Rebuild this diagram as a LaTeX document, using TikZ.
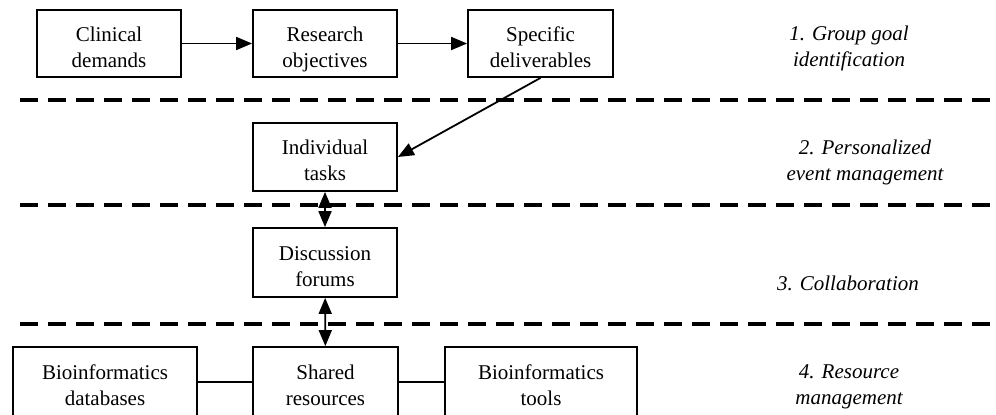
\documentclass[tikz,border=0pt]{standalone}
\usepackage{fontspec}
\setmainfont{Liberation Serif}
\usetikzlibrary{arrows.meta}
\newcommand{\lw}[1]{\raisebox{-3.5pt}[20pt][6pt]{#1}}
\newcommand{\tl}[2]{\lw{#1}\\\lw{#2}}
\tikzset{
  box/.style={draw, line width=1.8pt, inner sep=0pt, align=center,
    font=\fontsize{21}{26}\selectfont},
  lab/.style={align=center, font=\fontsize{21}{26}\selectfont\itshape},
  sep/.style={line width=4pt, dash pattern=on 18pt off 10pt},
  conn/.style={line width=1.8pt, -{Triangle[length=16pt,width=13pt]}},
  dconn/.style={line width=1.8pt, {Triangle[length=16pt,width=13pt]}-{Triangle[length=16pt,width=13pt]}},
  plain/.style={line width=1.8pt}
}
\begin{document}
\begin{tikzpicture}[x=1pt,y=-1pt]
\useasboundingbox (0,0) rectangle (996,415);
% separators
\coordinate (s1a) at (20,100); \coordinate (s1b) at (992,100);
\coordinate (s2a) at (20,205); \coordinate (s2b) at (992,205);
\coordinate (s3a) at (20,324); \coordinate (s3b) at (992,324);
\draw[sep] (s1a) -- (s1b);
\draw[sep] (s2a) -- (s2b);
\draw[sep] (s3a) -- (s3b);
% boxes
\node[box, minimum width=144pt, minimum height=67pt] (clin) at (109,43.5) {\tl{Clinical}{demands}};
\node[box, minimum width=144pt, minimum height=67pt] (res) at (325,43.5) {\tl{Research}{objectives}};
\node[box, minimum width=145pt, minimum height=67pt] (spec) at (540.5,43.5) {\tl{Specific}{deliverables}};
\node[box, minimum width=144pt, minimum height=68pt] (ind) at (325,157) {\tl{Individual}{tasks}};
\node[box, minimum width=144pt, minimum height=69pt] (disc) at (325,262.5) {\tl{Discussion}{forums}};
\node[box, minimum width=145pt, minimum height=70pt] (shared) at (325.5,382) {\tl{Shared}{resources}};
\node[box, minimum width=184pt, minimum height=70pt] (db) at (105,382) {\tl{Bioinformatics}{databases}};
\node[box, minimum width=192pt, minimum height=70pt] (tools) at (541,382) {\tl{Bioinformatics}{tools}};
% labels
\node[lab] (l1) at (849,42.7) {\tl{1. Group goal}{identification}};
\node[lab] (l2) at (865,156.7) {\tl{2. Personalized}{event management}};
\node[lab] (l3) at (848,283) {3. Collaboration};
\node[lab] (l4) at (849,380.7) {\tl{4. Resource}{management}};
% connectors
\draw[conn] (clin) -- (res);
\draw[conn] (res) -- (spec);
\draw[conn] (spec.south) -- (ind.east);
\draw[dconn] (ind) -- (disc);
\draw[dconn] (disc) -- (shared);
\draw[plain] (db) -- (shared);
\draw[plain] (shared) -- (tools);
\end{tikzpicture}
\end{document}
